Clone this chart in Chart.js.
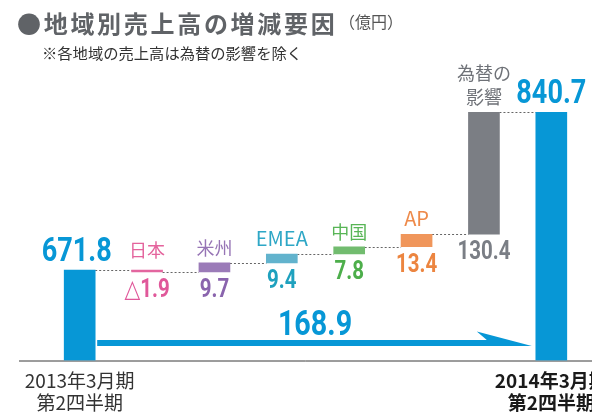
<!DOCTYPE html>
<html>
<head>
<meta charset="utf-8">
<script src="https://cdn.jsdelivr.net/npm/chart.js@4"></script>
<style>
    html, body { margin: 0; padding: 0; background: #fff; }
    #wrap { position: relative; width: 592px; height: 413px; overflow: hidden; font-family: "Noto Sans CJK JP", sans-serif; }
    #title { position: absolute; left: 17px; top: 10px; font-size: 24px; line-height: 26px; font-weight: bold; color: #606367; letter-spacing: 2.7px; white-space: nowrap; }
    #unit { position: absolute; left: 339px; top: 11px; font-size: 16px; line-height: 20px; color: #555; white-space: nowrap; }
    #note { position: absolute; left: 42px; top: 43px; font-size: 15.3px; line-height: 18px; color: #333; white-space: nowrap; }
    canvas { position: absolute; left: 0; top: 0; }
</style>
</head>
<body>
<div id="wrap">
    <canvas id="chart-region" width="592" height="413"></canvas>
    <div id="title">●地域別売上高の増減要因</div>
    <div id="unit">（億円）</div>
    <div id="note">※各地域の売上高は為替の影響を除く</div>
</div>
<script>
// regional sales change waterfall
const categories = ['2013年3月期 第2四半期', '日本', '米州', 'EMEA', '中国', 'AP', '為替の影響', '2014年3月期 第2四半期'];
const tickLabels = [['2013年3月期', '第2四半期'], '', '', '', '', '', '', ['2014年3月期', '第2四半期']];
const nameLines = [[], ['日本'], ['米州'], ['EMEA'], ['中国'], ['AP'], ['為替の', '影響'], []];
const startTotal = 671.8;
const endTotal = 840.7;
const changes = [-1.9, 9.7, 9.4, 7.8, 13.4, 130.4];
const valueLabels = ['671.8', '△1.9', '9.7', '9.4', '7.8', '13.4', '130.4', '840.7'];
const growthLabel = '168.9';

const Y_MIN = 575;
const Y_MAX = 855;
const BLUE = '#0797d6';
const BAR_COLORS = [BLUE, '#e3669f', '#9b7bb8', '#62b3cd', '#72bc6f', '#f0965b', '#7b7e84', BLUE];
const NAME_COLORS = ['', '#e4649d', '#9674b5', '#2ea7c6', '#58b556', '#ee8a4a', '#6e7177', ''];
const VALUE_COLORS = [BLUE, '#e0589a', '#8a64ad', '#1fa1be', '#4dae4b', '#ec8540', '#7a7e85', BLUE];
const NUM_FONT = "Roboto, 'DejaVu Sans', sans-serif";
const JP_FONT = "'Noto Sans CJK JP', sans-serif";

// floating bars: totals sit on the axis floor, changes stack on the running level
const floatData = [[Y_MIN, startTotal]];
const levels = [startTotal];
let running = startTotal;
changes.forEach(c => {
    floatData.push([running, running + c]);
    running += c;
    levels.push(running);
});
floatData.push([Y_MIN, endTotal]);
levels.push(endTotal);

// condensed-looking numbers: squeeze horizontally
function drawNumber(ctx, text, x, y, size, color) {
    ctx.save();
    ctx.translate(x, y);
    ctx.scale(0.82, 1);
    ctx.font = 'bold ' + size + 'px ' + NUM_FONT;
    ctx.fillStyle = color;
    ctx.textAlign = 'center';
    ctx.textBaseline = 'alphabetic';
    ctx.fillText(text, 0, 0);
    ctx.restore();
}

const waterfallDecor = {
    id: 'waterfallDecor',
    beforeDatasetsDraw(chart) {
        const { ctx, chartArea, scales } = chart;
        const bars = chart.getDatasetMeta(0).data;
        ctx.save();
        // floor line
        ctx.strokeStyle = '#3a3a3a';
        ctx.lineWidth = 1;
        ctx.beginPath();
        ctx.moveTo(19, chartArea.bottom + 0.5);
        ctx.lineTo(592, chartArea.bottom + 0.5);
        ctx.stroke();
        // dotted connectors
        ctx.strokeStyle = '#666';
        ctx.setLineDash([2, 2]);
        for (let i = 0; i < bars.length - 1; i++) {
            const y = Math.round(scales.y.getPixelForValue(levels[i])) + 0.5;
            ctx.beginPath();
            ctx.moveTo(bars[i].x + bars[i].width / 2, y);
            ctx.lineTo(bars[i + 1].x - bars[i + 1].width / 2, y);
            ctx.stroke();
        }
        ctx.restore();
    },
    afterDatasetsDraw(chart) {
        const { ctx, chartArea } = chart;
        const bars = chart.getDatasetMeta(0).data;
        ctx.save();
        ctx.textAlign = 'center';
        ctx.textBaseline = 'alphabetic';
        bars.forEach((bar, i) => {
            const top = Math.min(bar.y, bar.base);
            const bottom = Math.max(bar.y, bar.base);
            if (i === 0 || i === bars.length - 1) {
                drawNumber(ctx, valueLabels[i], bar.x - (i === 0 ? 3 : 0), top - 9, 33, VALUE_COLORS[i]);
                return;
            }
            const lines = nameLines[i];
            ctx.font = (lines[0] === 'EMEA' || lines[0] === 'AP' ? '20px ' : '18px ') + JP_FONT;
            ctx.fillStyle = NAME_COLORS[i];
            const lift = i === 1 ? 13 : 8;
            lines.forEach((t, k) => {
                ctx.fillText(t, bar.x, top - lift - (lines.length - 1 - k) * 24);
            });
            drawNumber(ctx, valueLabels[i], bar.x, bottom + 25, 25, VALUE_COLORS[i]);
        });

        // growth arrow between the two totals
        const first = bars[0];
        const last = bars[bars.length - 1];
        const x0 = first.x + first.width / 2 + 2;
        const x1 = last.x - last.width / 2 - 4;
        const yTop = chartArea.bottom - 20.5;
        const yBot = chartArea.bottom - 14.5;
        ctx.fillStyle = BLUE;
        ctx.beginPath();
        ctx.moveTo(x0, yTop);
        ctx.lineTo(x1 - 45, yTop);
        ctx.lineTo(x1 - 55, yTop - 8.5);
        ctx.lineTo(x1, yBot);
        ctx.lineTo(x0, yBot);
        ctx.closePath();
        ctx.fill();
        drawNumber(ctx, growthLabel, 315, chartArea.bottom - 25.5, 35, BLUE);
        ctx.restore();
    },
};

const chart = new Chart(document.getElementById('chart-region').getContext('2d'), {
    type: 'bar',
    data: {
        labels: tickLabels,
        datasets: [
            {
                label: '売上高',
                data: floatData,
                backgroundColor: BAR_COLORS,
                borderWidth: 0,
                barThickness: 31,
            },
        ],
    },
    plugins: [waterfallDecor],
    options: {
        responsive: false,
        animation: false,
        layout: { padding: { top: 99, right: 7, bottom: 0, left: 46 } },
        plugins: {
            legend: { display: false },
            tooltip: { enabled: false },
        },
        scales: {
            x: {
                offset: true,
                grid: { display: false, drawTicks: false },
                border: { display: false },
                ticks: {
                    autoSkip: false,
                    maxRotation: 0,
                    padding: 10,
                    color: ctx => (ctx.index === 7 ? '#1a1a1a' : '#333'),
                    font: ctx => ({
                        family: JP_FONT,
                        size: 19,
                        lineHeight: 1.13,
                        weight: ctx.index === 7 ? 'bold' : 'normal',
                    }),
                },
                afterFit: scale => {
                    scale.paddingLeft = 0;
                    scale.paddingRight = 0;
                    scale.height = 52.5;
                },
            },
            y: { display: false, min: Y_MIN, max: Y_MAX },
        },
    },
});
</script>
</body>
</html>
